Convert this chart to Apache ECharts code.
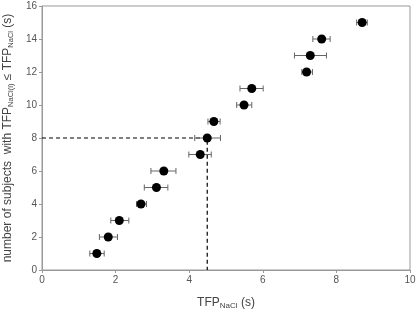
<!DOCTYPE html>
<html>
<head>
<meta charset="utf-8">
<script src="https://cdn.jsdelivr.net/npm/echarts@6/dist/echarts.min.js"></script>
<style>
  html, body { margin: 0; padding: 0; background: #fff; }
  #chart { width: 416px; height: 313px; }
</style>
</head>
<body>
<div id="chart"></div>
<script>
// number of subjects (rank) and their mean TFP with error bar bounds
var subjects = [1, 2, 3, 4, 5, 6, 7, 8, 9, 10, 11, 12, 13, 14, 15]
var tfp      = [1.49, 1.80, 2.10, 2.69, 3.11, 3.31, 4.30, 4.49, 4.67, 5.49, 5.70, 7.19, 7.29, 7.60, 8.70]
var errLow   = [1.30, 1.56, 1.87, 2.57, 2.78, 2.96, 3.99, 4.15, 4.51, 5.29, 5.38, 7.06, 6.86, 7.36, 8.55]
var errHigh  = [1.69, 2.05, 2.36, 2.84, 3.42, 3.64, 4.60, 4.85, 4.84, 5.70, 6.01, 7.35, 7.73, 7.83, 8.84]

// median guide lines
var medianX = 4.49
var medianY = 8

var xTicks = [0, 2, 4, 6, 8, 10]
var yTicks = [0, 2, 4, 6, 8, 10, 12, 14, 16]

var points = []
var bars = []
for (var i = 0; i < subjects.length; i++) {
    points.push([tfp[i], subjects[i]])
    bars.push([errLow[i], errHigh[i], subjects[i]])
}
var guide = [[0, medianY], [medianX, medianY], [medianX, 0]]

var myChart = echarts.init(document.getElementById('chart'))

var labelColor = '#555'
var axisColor = '#999'

var option = {
    animation: false,
    grid: { left: 42, right: 6, top: 6, bottom: 43, show: true, borderColor: axisColor, borderWidth: 1,
            containLabel: false, outerBoundsMode: 'none' },
    xAxis: {
        type: 'value', min: 0, max: 10, interval: 2,
        name: '{a|TFP}{s|NaCl}{a| (s)}',
        nameLocation: 'middle', nameGap: 26,
        nameTextStyle: {
            rich: {
                a: { fontFamily: 'Liberation Sans', fontSize: 12, color: '#444' },
                s: { fontFamily: 'Liberation Sans', fontSize: 8, color: '#444', verticalAlign: 'bottom', padding: [6, 0, 0, 0] }
            }
        },
        axisLine: { lineStyle: { color: axisColor } },
        axisTick: { show: true, length: 3, lineStyle: { color: axisColor } },
        axisLabel: { color: labelColor, fontSize: 10, fontFamily: 'Liberation Sans', margin: 5,
            formatter: function (v) { return xTicks.indexOf(v) >= 0 ? String(v) : '' } },
        splitLine: { show: false }
    },
    yAxis: {
        type: 'value', min: 0, max: 16, interval: 2,
        name: '{a|number of subjects  with TFP}{s|NaCl(i)}{a| ≤ TFP}{s|NaCl}{a| (s)}',
        nameLocation: 'middle', nameGap: 24,
        nameTextStyle: {
            rich: {
                a: { fontFamily: 'Liberation Sans', fontSize: 12, color: '#444' },
                s: { fontFamily: 'Liberation Sans', fontSize: 7.5, color: '#444', verticalAlign: 'bottom', padding: [6, 0, 0, 0] }
            }
        },
        axisLine: { lineStyle: { color: axisColor } },
        axisTick: { show: true, length: 3, lineStyle: { color: axisColor } },
        axisLabel: { color: labelColor, fontSize: 10, fontFamily: 'Liberation Sans', margin: 5,
            formatter: function (v) { return yTicks.indexOf(v) >= 0 ? String(v) : '' } },
        splitLine: { show: false }
    },
    series: [
        {
            type: 'line',
            data: guide,
            symbol: 'none',
            lineStyle: { color: '#000', width: 1.2, type: [4, 3] },
            z: 1
        },
        {
            type: 'custom',
            data: bars,
            renderItem: function (params, api) {
                var lo = api.coord([api.value(0), api.value(2)])
                var hi = api.coord([api.value(1), api.value(2)])
                var c = 3
                var st = { stroke: '#666', lineWidth: 1 }
                return {
                    type: 'group',
                    children: [
                        { type: 'line', shape: { x1: lo[0], y1: lo[1], x2: hi[0], y2: hi[1] }, style: st },
                        { type: 'line', shape: { x1: lo[0], y1: lo[1] - c, x2: lo[0], y2: lo[1] + c }, style: st },
                        { type: 'line', shape: { x1: hi[0], y1: hi[1] - c, x2: hi[0], y2: hi[1] + c }, style: st }
                    ]
                }
            },
            z: 2
        },
        {
            type: 'scatter',
            data: points,
            symbol: 'circle',
            symbolSize: 9,
            itemStyle: { color: '#000', opacity: 1 },
            z: 3
        }
    ]
}

myChart.setOption(option)
</script>
</body>
</html>
